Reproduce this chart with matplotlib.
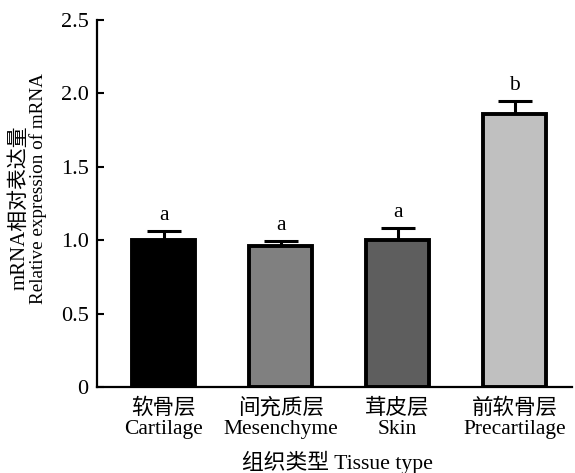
import numpy as np
import matplotlib
matplotlib.use("Agg")
import matplotlib.pyplot as plt

plt.rcParams['font.family'] = ['Liberation Serif', 'Noto Sans CJK SC']

# data
tissues_cn = ['软骨层', '间充质层', '茸皮层', '前软骨层']
tissues_en = ['Cartilage', 'Mesenchyme', 'Skin', 'Precartilage']
expr = [1.00, 0.96, 1.00, 1.86]
err = [0.065, 0.035, 0.085, 0.09]
letters = ['a', 'a', 'a', 'b']
colors = ['#000000', '#808080', '#5e5e5e', '#c0c0c0']

fig = plt.figure(figsize=(5.75, 4.73), dpi=100)
ax = fig.add_axes([0.1687, 0.1818, 0.826, 0.776])

x = np.arange(len(expr))
ax.bar(x, expr, width=0.54, color=colors, edgecolor='black', linewidth=2.8, zorder=3)
ax.errorbar(x, expr, yerr=[np.zeros(len(err)), err], fmt='none', ecolor='black',
            elinewidth=2.2, capsize=12, capthick=2.2, zorder=2)
for xi, yi, ei, lab in zip(x, expr, err, letters):
    ax.annotate(lab, (xi, yi + ei), xytext=(0, 4), textcoords='offset points',
                ha='center', va='bottom', fontsize=15.5)

ax.set_xlim(-0.57, 3.49)
ax.set_ylim(0, 2.5)
ax.set_yticks([0, 0.5, 1.0, 1.5, 2.0, 2.5])
ax.set_yticklabels(['0', '0.5', '1.0', '1.5', '2.0', '2.5'], fontsize=16)
ax.set_xticks(x)
ax.set_xticklabels([c + '\n' + e for c, e in zip(tissues_cn, tissues_en)], fontsize=15.5,
                   linespacing=1.12)
ax.tick_params(axis='y', direction='in', length=5, width=1.5, pad=6)
ax.tick_params(axis='x', length=0, pad=8)
for s in ['top', 'right']:
    ax.spines[s].set_visible(False)
for s in ['left', 'bottom']:
    ax.spines[s].set_linewidth(1.6)

fig.text(0.034, 0.56, 'mRNA相对表达量', rotation=90, ha='center', va='center', fontsize=15)
fig.text(0.066, 0.602, 'Relative expression of mRNA', rotation=90, ha='center', va='center',
         fontsize=13.8)
fig.text(0.586, 0.023, '组织类型 Tissue type', ha='center', va='center', fontsize=15.7)

fig.savefig('out.png', dpi=100)
